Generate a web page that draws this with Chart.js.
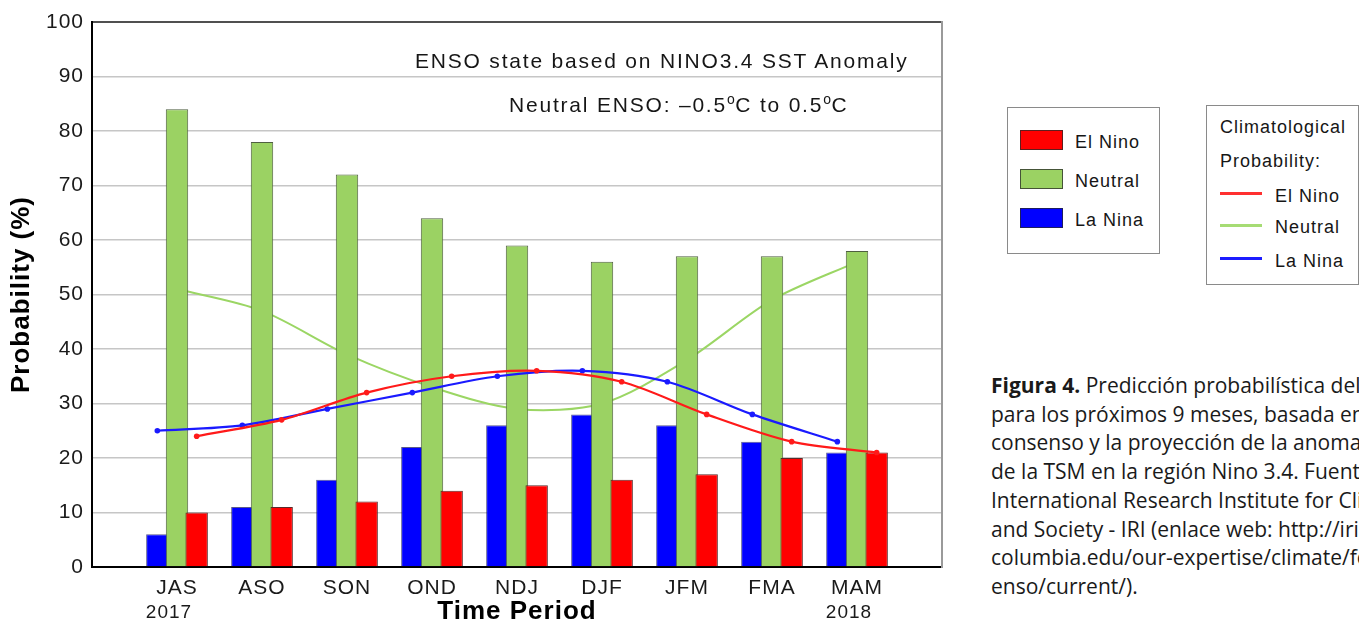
<!DOCTYPE html>
<html><head><meta charset="utf-8">
<script src="https://cdn.jsdelivr.net/npm/chart.js@4.4.1/dist/chart.umd.min.js"></script>
<style>
html,body{margin:0;padding:0;overflow:hidden;background:#fff;width:1359px;height:627px;}
#wrap{position:relative;width:1359px;height:627px;overflow:hidden;}
#c{position:absolute;left:0;top:0;}
.t{position:absolute;white-space:nowrap;font-family:"Liberation Sans",Arial,sans-serif;color:#161616;}
.note{font-size:21px;line-height:21px;letter-spacing:1.8px;}
.sup{font-size:14px;position:relative;top:-8px;letter-spacing:0.5px;}
.box{position:absolute;border:1.5px solid #8a8a8a;background:#fff;box-sizing:border-box;}
.lg{font-size:18px;line-height:18px;letter-spacing:1px;}
.sw{position:absolute;width:43px;height:20px;box-sizing:border-box;border:1.5px solid rgba(40,40,40,0.75);}
.ln{position:absolute;width:42px;height:2.5px;}
#cap{position:absolute;left:991px;top:371px;font-family:"Open Sans",sans-serif;font-size:21px;line-height:28.7px;color:#1a1a1a;white-space:nowrap;}
</style></head>
<body>
<div id="wrap">
<canvas id="c" width="960" height="627"></canvas>
<div class="t note" style="left:415px;top:50px;">ENSO state based on NINO3.4 SST Anomaly</div>
<div class="t note" style="left:509px;top:94px;">Neutral ENSO: –0.5<span class="sup">o</span>C to 0.5<span class="sup">o</span>C</div>

<div class="box" style="left:1007px;top:107px;width:153px;height:147px;"></div>
<div class="sw" style="left:1020px;top:130px;background:#ff0000;"></div>
<div class="sw" style="left:1020px;top:169px;background:#9bd263;"></div>
<div class="sw" style="left:1020px;top:208px;background:#0000ff;"></div>
<div class="t lg" style="left:1075px;top:133px;">El Nino</div>
<div class="t lg" style="left:1075px;top:171.5px;">Neutral</div>
<div class="t lg" style="left:1075px;top:211px;">La Nina</div>

<div class="box" style="left:1206px;top:105px;width:153px;height:180px;"></div>
<div class="t lg" style="left:1220px;top:118px;">Climatological</div>
<div class="t lg" style="left:1220px;top:151.5px;">Probability:</div>
<div class="ln" style="left:1220px;top:192px;background:#ff3030;"></div>
<div class="ln" style="left:1220px;top:224px;background:#a6dc74;"></div>
<div class="ln" style="left:1220px;top:257px;background:#1c1cff;"></div>
<div class="t lg" style="left:1275px;top:186.5px;">El Nino</div>
<div class="t lg" style="left:1275px;top:218px;">Neutral</div>
<div class="t lg" style="left:1275px;top:251.5px;">La Nina</div>

<div id="cap"><b>Figura 4.</b> Predicción probabilística del ENSO<br>para los próximos 9 meses, basada en el<br>consenso y la proyección de la anomalía<br>de la TSM en la región Nino 3.4. Fuente:<br>International Research Institute for Climate<br>and Society - IRI (enlace web: http://iri.<br>columbia.edu/our-expertise/climate/forecasts/<br>enso/current/).</div>
</div>
<script>
// ---- data ----
const categories = ['JAS','ASO','SON','OND','NDJ','DJF','JFM','FMA','MAM'];
const yearLabels = ['2017','','','','','','','','2018'];
const laNina  = [6, 11, 16, 22, 26, 28, 26, 23, 21];
const neutral = [84, 78, 72, 64, 59, 56, 57, 57, 58];
const elNino  = [10, 11, 12, 14, 15, 16, 17, 20, 21];
const climLaNina  = [25, 26, 29, 32, 35, 36, 34, 28, 23];
const climNeutral = [51, 47, 39, 33, 29, 30, 38, 49, 56];
const climElNino  = [24, 27, 32, 35, 36, 34, 28, 23, 21];
const yTickStep = 10;

// ---- presentation ----
const slot = 0.2313;            // offset (in category units) of the side bars
const pts = (arr, d) => arr.map((v, i) => ({x: i + d, y: v}));
const FONT = '"Liberation Sans", Arial, sans-serif';

const spacingPlugin = {
  id: 'spacing',
  beforeDraw(chart) { chart.ctx.letterSpacing = '1px'; }
};
const yearPlugin = {
  id: 'years',
  afterDraw(chart) {
    const xs = chart.scales.x, ctx = chart.ctx;
    ctx.save();
    ctx.font = '19px ' + FONT;
    ctx.fillStyle = '#1a1a1a';
    ctx.textAlign = 'center';
    ctx.textBaseline = 'middle';
    yearLabels.forEach((t, i) => { if (t) ctx.fillText(t, xs.getPixelForValue(i) - 8, 613); });
    ctx.restore();
  }
};

const barCommon = {type: 'bar', grouped: false, categoryPercentage: 1, barPercentage: 1.14, borderWidth: 1};

new Chart(document.getElementById('c'), {
  type: 'bar',
  data: {
    datasets: [
      Object.assign({label:'La Nina', data: pts(laNina, -slot), backgroundColor:'#0000ff', borderColor:'rgba(20,20,90,0.7)', order:3}, barCommon),
      Object.assign({label:'Neutral', data: pts(neutral, 0), backgroundColor:'#9bd263', borderColor:'#4f5f40', order:2}, barCommon),
      Object.assign({label:'El Nino', data: pts(elNino, slot), backgroundColor:'#ff0000', borderColor:'#5a2a2a', order:1}, barCommon),
      {type:'line', label:'Clim Neutral', data: pts(climNeutral, 0), borderColor:'#9bd664', borderWidth:2, pointRadius:0, tension:0.3, order:4},
      {type:'line', label:'Clim El Nino', data: pts(climElNino, slot), borderColor:'#ff1a1a', backgroundColor:'#ff1a1a', borderWidth:2.2, pointRadius:2.8, pointBorderWidth:0, tension:0.3, order:0},
      {type:'line', label:'Clim La Nina', data: pts(climLaNina, -slot), borderColor:'#1a1aff', backgroundColor:'#1a1aff', borderWidth:2.2, pointRadius:2.8, pointBorderWidth:0, tension:0.3, order:0}
    ]
  },
  options: {
    responsive: false,
    animation: false,
    devicePixelRatio: 1,
    layout: {padding: {left: 0, top: 22, right: 18, bottom: 0}},
    plugins: {legend: {display: false}, tooltip: {enabled: false}},
    scales: {
      x: {
        type: 'linear', min: -1, max: 9, offset: false,
        afterFit: s => { s.height = 60; },
        grid: {display: false, drawTicks: false},
        border: {display: true, color: '#000', width: 2},
        ticks: {stepSize: 1, autoSkip: false, maxRotation: 0, padding: 9, color: '#1a1a1a',
                font: {family: FONT, size: 21},
                callback: v => (categories[v] !== undefined ? categories[v] : '')},
        title: {display: true, text: 'Time Period', color: '#000', padding: 0,
                font: {family: FONT, size: 26, weight: 'bold'}}
      },
      y: {
        min: 0, max: 100,
        afterFit: s => { s.width = 92; },
        grid: {drawTicks: false,
               color: c => (c.tick && c.tick.value === 100 ? '#505050' : '#c6c6c6'),
               lineWidth: c => (c.tick && c.tick.value === 100 ? 2 : 1.5)},
        border: {color: '#000', width: 2},
        ticks: {stepSize: yTickStep, padding: 8, color: '#1a1a1a', font: {family: FONT, size: 21}},
        title: {display: true, text: 'Probability (%)', color: '#000', padding: {top: 6},
                font: {family: FONT, size: 26, weight: 'bold'}}
      },
      yR: {
        position: 'right', min: 0, max: 100,
        afterFit: s => { s.width = 0; },
        grid: {display: false, drawTicks: false},
        ticks: {display: false},
        border: {color: '#9a9a9a', width: 2}
      }
    }
  },
  plugins: [spacingPlugin, yearPlugin]
});
</script>
</body></html>
